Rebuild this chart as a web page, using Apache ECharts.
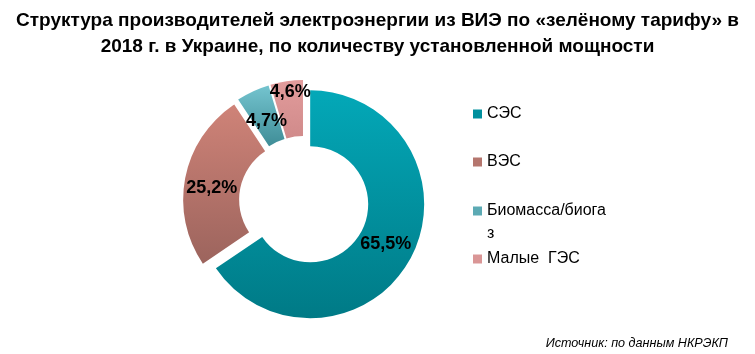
<!DOCTYPE html>
<html>
<head>
<meta charset="utf-8">
<script src="https://cdn.jsdelivr.net/npm/echarts@6/dist/echarts.min.js"></script>
<style>
  html, body { margin: 0; padding: 0; background: #fff; }
  #chart { width: 755px; height: 354px; }
</style>
</head>
<body>
<div id="chart"></div>
<script>
// данные
const categories = ['СЭС', 'ВЭС', 'Биомасса/биогаз', 'Малые  ГЭС']
const shares = [65.5, 25.2, 4.7, 4.6]

// цвета сегментов (верх / низ градиента)
const topColors = ['#03a8b8', '#cf8378', '#74c4cf', '#e29c9c']
const bottomColors = ['#007a86', '#9c645d', '#3f8d97', '#d08a8a']
const legendColors = ['#00909e', '#b5766e', '#5caab4', '#da9696']
// сдвиг подписей, как в оригинале
const labelShift = [[-3, -2], [2, 6], [3, 7], [0, -14]]
const legendIconY = [114, 162, 211, 259]

const chartIns = echarts.init(document.getElementById('chart'))

const seriesData = categories.map((name, i) => ({
  name,
  value: shares[i],
  selected: true,
  itemStyle: {
    color: new echarts.graphic.LinearGradient(0, 0, 0, 1, [
      { offset: 0, color: topColors[i] },
      { offset: 1, color: bottomColors[i] }
    ])
  }
}))

// подпись легенды переносится после 14 символов, как в Excel
const wrapName = name => name.length > 14
  ? '\n' + name.slice(0, 14) + '\n' + name.slice(14)
  : name

const legends = categories.map((name, i) => {
  const lines = name.length > 14 ? 3 : 1
  return {
    orient: 'vertical',
    left: 473,
    top: legendIconY[i] - (lines * 23) / 2,
    data: [{ name, itemStyle: { color: legendColors[i] } }],
    formatter: wrapName,
    icon: 'rect',
    itemWidth: 9,
    itemHeight: 9,
    itemGap: 0,
    padding: 0,
    selectedMode: false,
    textStyle: {
      fontFamily: 'Liberation Sans, Arial',
      fontSize: 16,
      color: '#000',
      lineHeight: 23
    }
  }
})

const option = {
  backgroundColor: '#fff',
  animation: false,
  title: [
    {
      text: 'Структура производителей электроэнергии из ВИЭ по «зелёному тарифу» в\n2018 г. в Украине, по количеству установленной мощности',
      left: 'center',
      top: 3,
      textStyle: {
        fontFamily: 'Liberation Sans Narrow, Arial Narrow, Liberation Sans, Arial',
        fontSize: 19,
        fontWeight: 'bold',
        color: '#000',
        lineHeight: 26,
        align: 'center'
      }
    },
    {
      text: 'Источник: по данным НКРЭКП',
      right: 22,
      bottom: -1,
      textStyle: {
        fontFamily: 'Liberation Sans, Arial',
        fontSize: 12.6,
        fontStyle: 'italic',
        fontWeight: 'normal',
        color: '#000'
      }
    }
  ],
  legend: legends,
  series: [
    {
      type: 'pie',
      center: [304, 201],
      radius: [58, 114],
      startAngle: 90,
      clockwise: true,
      selectedMode: 'multiple',
      selectedOffset: 7,
      label: {
        position: 'inside',
        formatter: p => p.value.toFixed(1).replace('.', ',') + '%',
        fontFamily: 'Liberation Sans, Arial',
        fontSize: 18,
        fontWeight: 'bold',
        color: '#000'
      },
      labelLayout: p => ({
        hideOverlap: false,
        dx: labelShift[p.dataIndex][0],
        dy: labelShift[p.dataIndex][1]
      }),
      labelLine: { show: false },
      emphasis: { disabled: true },
      data: seriesData
    }
  ]
}

chartIns.setOption(option)
</script>
</body>
</html>
